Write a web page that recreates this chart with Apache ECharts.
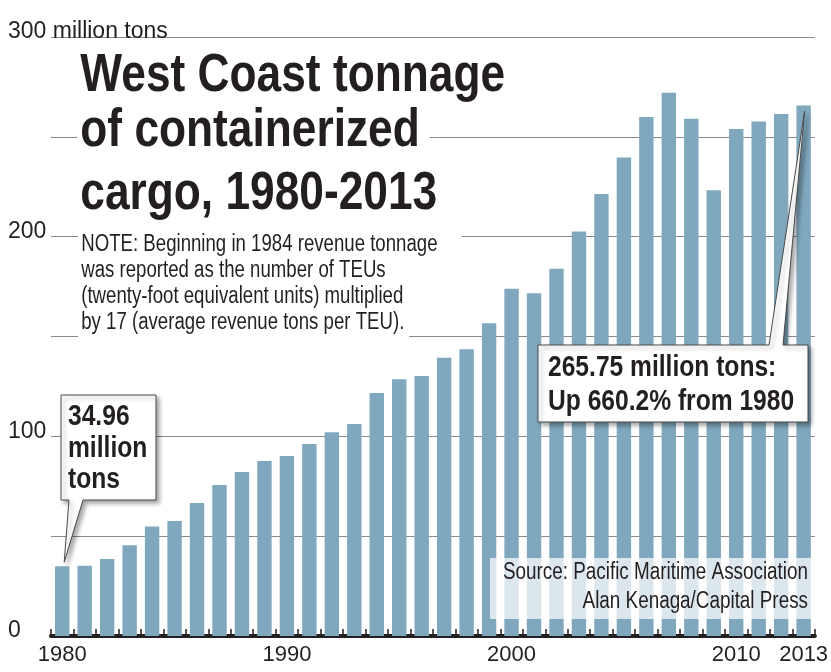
<!DOCTYPE html>
<html><head><meta charset="utf-8">
<script src="https://cdn.jsdelivr.net/npm/echarts@6/dist/echarts.min.js"></script>
<style>html,body{margin:0;padding:0;background:#fff}#c{width:831px;height:672px}</style>
</head><body><div id="c"></div>
<script>
// ---- data ----
const years = ['1980','1981','1982','1983','1984','1985','1986','1987','1988','1989',
  '1990','1991','1992','1993','1994','1995','1996','1997','1998','1999',
  '2000','2001','2002','2003','2004','2005','2006','2007','2008','2009',
  '2010','2011','2012','2013'];
const tonnage = [34.96, 35.2, 38.6, 45.4, 54.9, 57.6, 66.6, 75.6, 82.1, 87.7,
  90.1, 96.1, 102.1, 106.2, 121.7, 128.6, 130.2, 139.4, 143.6, 156.6,
  173.9, 171.7, 183.9, 202.6, 221.4, 239.7, 259.9, 272.1, 259.1, 223.2,
  253.9, 257.7, 261.4, 265.75];
const yTickLabels = {0:'0', 100:'100', 200:'200', 300:'300 million tons'};
const xLabelYears = ['1980','1990','2000','2010','2013'];
const titleLines = ['West Coast tonnage','of containerized','cargo, 1980-2013'];
const noteLines = ['NOTE: Beginning in 1984 revenue tonnage',
  'was reported as the number of TEUs',
  '(twenty-foot equivalent units) multiplied',
  'by 17 (average revenue tons per TEU).'];
const firstCallout = ['34.96','million','tons'];
const lastCallout = ['265.75 million tons:','Up 660.2% from 1980'];
const sourceLines = ['Source: Pacific Maritime Association','Alan Kenaga/Capital Press'];

// ---- chart ----
const FF = '"Liberation Sans", Arial, sans-serif';
const INK = '#231f20';
const SX = 0.82; // condensed look
const chart = echarts.init(document.getElementById('c'), null, {renderer:'canvas'});
chart.setOption({
  animation: false,
  backgroundColor: '#fff',
  grid: {left: 51, right: 9, top: 37, bottom: 36},
  xAxis: {
    type: 'category', data: years,
    axisLine: {lineStyle: {color: INK, width: 4}},
    axisTick: {show: true, inside: true, length: 7, interval: 0, lineStyle: {color: INK, width: 1.5}},
    axisLabel: {interval: 0, hideOverlap: false, margin: 8, color: INK, fontFamily: FF, fontSize: 22,
      formatter: v => xLabelYears.includes(v) ? v : ''}
  },
  yAxis: {
    type: 'value', min: 0, max: 300, interval: 50,
    axisLine: {show: false}, axisTick: {show: false},
    splitLine: {lineStyle: {color: '#8a8a8a', width: 1}},
    axisLabel: {align: 'left', margin: 43, color: INK, fontFamily: FF, fontSize: 23,
      verticalAlign: 'bottom', lineHeight: 10, padding: [0, 4, 0, 0], backgroundColor: '#fff',
      formatter: v => yTickLabels[v] !== undefined ? yTickLabels[v] : ''}
  },
  series: [{
    type: 'bar', data: tonnage, barCategoryGap: '36%', silent: true,
    itemStyle: {color: '#7fa7bd'}
  }]
});

const p1 = chart.convertToPixel({seriesIndex: 0}, [0, tonnage[0]]);
const p2 = chart.convertToPixel({seriesIndex: 0}, [years.length - 1, tonnage[tonnage.length - 1]]);

const g = [];
const titleY = [76, 131, 194];
titleLines.forEach((t, i) => g.push({type: 'text', x: 77, y: titleY[i], z: 10, scaleX: SX,
  style: {text: t, fill: INK, font: 'bold 54px ' + FF, verticalAlign: 'middle',
    backgroundColor: '#fff', padding: [0, 12, 0, 4]}}));
noteLines.forEach((t, i) => g.push({type: 'text', x: 78, y: 245 + i * 26, z: 10, scaleX: 0.81,
  style: {text: t, fill: INK, font: '23px ' + FF, verticalAlign: 'middle',
    backgroundColor: '#fff', padding: [3, i === 0 ? 30 : 6, 3, 4]}}));

const shadow = {shadowBlur: 4, shadowOffsetX: 3, shadowOffsetY: 3, shadowColor: 'rgba(0,0,0,0.35)'};
// callout 1
g.push({type: 'polygon', z: 20, shape: {points: [[61,395],[156,395],[156,500],[83,500],[p1[0]+2, p1[1]-4],[69,500],[61,500]]},
  style: Object.assign({fill: '#fff', stroke: '#4a4a4a', lineWidth: 1}, shadow)});
firstCallout.forEach((t, i) => g.push({type: 'text', x: 68, y: 417 + i * 31.5, z: 21, scaleX: SX,
  style: {text: t, fill: INK, font: 'bold 30px ' + FF, verticalAlign: 'middle'}}));
// callout 2
g.push({type: 'polygon', z: 20, shape: {points: [[538,345],[769,345],[p2[0]+1, p2[1]+6],[783,345],[808,345],[808,422],[538,422]]},
  style: Object.assign({fill: '#fff', stroke: '#4a4a4a', lineWidth: 1}, shadow)});
lastCallout.forEach((t, i) => g.push({type: 'text', x: 548, y: 367.5 + i * 34.5, z: 21, scaleX: SX,
  style: {text: t, fill: INK, font: 'bold 30px ' + FF, verticalAlign: 'middle'}}));
// source
g.push({type: 'rect', z: 15, shape: {x: 490, y: 558, width: 323, height: 61},
  style: {fill: 'rgba(255,255,255,0.72)'}});
sourceLines.forEach((t, i) => g.push({type: 'text', x: 808, y: 572.5 + i * 29, z: 16, scaleX: SX,
  style: {text: t, fill: INK, font: '23px ' + FF, align: 'right', verticalAlign: 'middle'}}));

chart.setOption({graphic: g});
</script>
</body></html>
